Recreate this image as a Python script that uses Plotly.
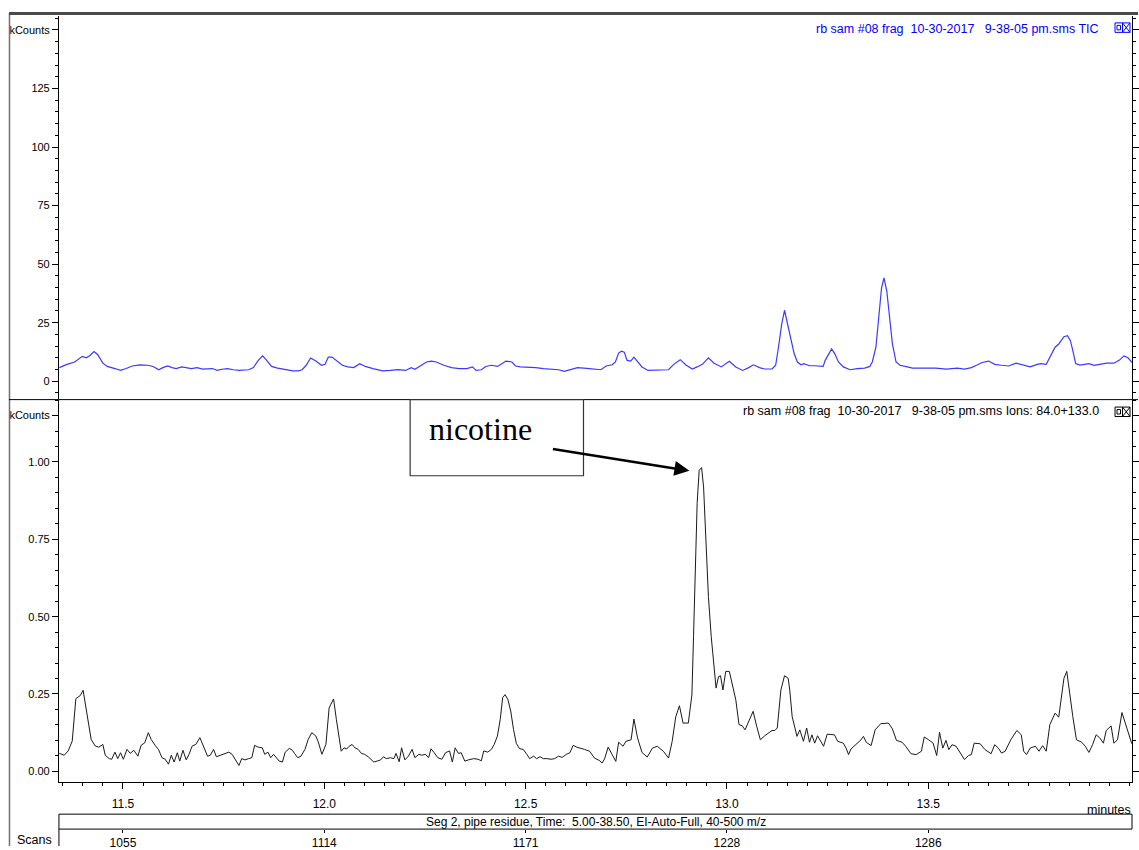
import plotly.graph_objects as go

# ---------------- data ----------------
tic_minutes = [
    11.342, 11.361, 11.380, 11.399, 11.409, 11.418, 11.428, 11.437, 11.450, 11.461,
    11.480, 11.494, 11.508, 11.523, 11.542, 11.561, 11.575, 11.589, 11.599, 11.611,
    11.622, 11.632, 11.646, 11.660, 11.670, 11.684, 11.698, 11.722, 11.734, 11.746,
    11.760, 11.774, 11.789, 11.812, 11.824, 11.836, 11.847, 11.857, 11.869, 11.884,
    11.903, 11.922, 11.936, 11.945, 11.955, 11.966, 11.979, 11.993, 12.002, 12.010,
    12.019, 12.031, 12.045, 12.059, 12.073, 12.088, 12.102, 12.121, 12.145, 12.164,
    12.183, 12.202, 12.216, 12.225, 12.240, 12.254, 12.266, 12.278, 12.297, 12.316,
    12.335, 12.354, 12.368, 12.377, 12.390, 12.401, 12.415, 12.430, 12.441, 12.451,
    12.466, 12.475, 12.487, 12.506, 12.525, 12.544, 12.563, 12.582, 12.596, 12.610,
    12.629,
    12.652, 12.669, 12.687, 12.700, 12.715, 12.723, 12.731, 12.738, 12.745, 12.752,
    12.761, 12.769, 12.777, 12.789, 12.804, 12.824, 12.838, 12.855, 12.868, 12.884,
    12.899, 12.914, 12.926, 12.939, 12.954, 12.968, 12.986, 13.006, 13.022, 13.039,
    13.054, 13.066, 13.081, 13.094, 13.112, 13.121, 13.128, 13.136, 13.143, 13.150,
    13.158, 13.167, 13.175, 13.184, 13.191, 13.205, 13.218, 13.239, 13.244, 13.253,
    13.260, 13.268, 13.277, 13.289, 13.306, 13.324, 13.342, 13.355, 13.361, 13.370,
    13.377, 13.384, 13.390, 13.397, 13.404, 13.411, 13.420, 13.430, 13.448, 13.461,
    13.483, 13.519, 13.545, 13.572, 13.590, 13.607, 13.620, 13.634, 13.650, 13.665,
    13.682, 13.700, 13.718, 13.736, 13.753, 13.771, 13.780, 13.793, 13.802, 13.815,
    13.824, 13.837, 13.846, 13.853, 13.859, 13.866, 13.877, 13.899, 13.912, 13.930,
    13.943, 13.961, 13.974, 13.986, 13.996, 14.005, 14.014,
]
tic_kcounts = [
    5.8, 7.2, 8.2, 10.6, 10.0, 11.0, 12.7, 11.4, 7.7, 6.3,
    5.4, 4.6, 5.4, 6.5, 7.0, 6.8, 6.3, 4.9, 5.8, 6.5,
    5.8, 5.4, 6.1, 5.8, 5.4, 5.8, 5.2, 5.4, 4.6, 5.1,
    5.4, 4.9, 4.6, 4.9, 5.8, 8.9, 10.8, 8.9, 6.3, 5.6,
    4.9, 4.4, 4.4, 4.9, 6.8, 9.9, 8.6, 6.8, 7.2, 10.3,
    10.3, 8.6, 6.8, 6.1, 5.8, 7.5, 6.3, 5.4, 4.4, 4.6,
    4.9, 4.6, 5.8, 5.1, 6.8, 8.2, 8.6, 8.2, 6.8, 5.8,
    5.4, 5.4, 6.1, 4.6, 4.9, 6.3, 6.8, 6.3, 7.5, 8.6,
    8.2, 6.5, 6.1, 6.1, 5.8, 5.4, 5.1, 4.9, 4.2, 4.9,
    5.8,
    5.5, 5.2, 4.9, 6.5, 7.0, 8.2, 12.0, 12.8, 12.4, 8.9,
    8.6, 10.3, 8.5, 6.1, 4.6, 4.6, 4.6, 4.9, 7.2, 9.2,
    6.8, 5.2, 6.1, 7.2, 10.0, 7.7, 6.1, 8.5, 6.1, 4.6,
    5.8, 7.0, 5.8, 5.2, 5.2, 6.8, 14.5, 24.4, 30.3, 25.1,
    18.7, 11.7, 8.2, 7.0, 7.5, 6.6, 6.6, 6.3, 8.9, 12.0,
    13.8, 11.7, 8.2, 6.1, 4.9, 5.4, 5.6, 6.3, 8.2, 14.5,
    28.6, 39.9, 44.1, 38.5, 27.2, 15.9, 8.2, 6.8, 6.1, 5.6,
    5.6, 5.6, 5.2, 5.6, 5.2, 5.8, 6.8, 8.0, 8.6, 7.2,
    6.8, 6.5, 7.7, 6.8, 6.1, 7.2, 7.5, 7.2, 10.3, 14.5,
    15.9, 19.0, 19.4, 17.3, 13.1, 7.5, 6.9, 7.5, 6.8, 7.2,
    7.7, 7.7, 8.9, 10.8, 10.0, 8.2, 7.2,
]

ion_minutes = [
    11.342, 11.354, 11.364, 11.374, 11.383, 11.390, 11.394, 11.401, 11.409, 11.415,
    11.421, 11.431, 11.440, 11.450, 11.456, 11.466, 11.472, 11.480, 11.487, 11.494,
    11.501, 11.510, 11.518, 11.527, 11.537, 11.545, 11.554, 11.563, 11.570, 11.580,
    11.588, 11.597, 11.605, 11.613, 11.620, 11.627, 11.635, 11.641, 11.649, 11.657,
    11.664, 11.672, 11.681, 11.691, 11.700, 11.710, 11.717, 11.725, 11.732, 11.741,
    11.751, 11.763, 11.771, 11.779, 11.788, 11.795, 11.803, 11.812, 11.820, 11.827,
    11.836, 11.846, 11.852, 11.860, 11.867, 11.874, 11.882, 11.888, 11.896, 11.903,
    11.913, 11.921, 11.926, 11.934, 11.942, 11.952, 11.960, 11.969, 11.979, 11.985,
    11.994, 12.000, 12.004, 12.012, 12.017, 12.023, 12.030, 12.036, 12.042, 12.049,
    12.055, 12.061, 12.069, 12.076, 12.084, 12.092, 12.100, 12.109, 12.116, 12.123,
    12.131, 12.140, 12.147, 12.154, 12.164, 12.173, 12.178, 12.186, 12.192, 12.200,
    12.209, 12.218, 12.225, 12.235, 12.242, 12.251, 12.259, 12.265, 12.273, 12.282,
    12.292, 12.301, 12.311, 12.318, 12.325, 12.333, 12.340, 12.349, 12.358, 12.371,
    12.382, 12.390, 12.396, 12.406, 12.415, 12.422, 12.430, 12.437, 12.443, 12.449,
    12.456, 12.463, 12.470, 12.477, 12.485, 12.494, 12.503, 12.510, 12.520, 12.527,
    12.536, 12.544, 12.553, 12.563, 12.572, 12.582, 12.591, 12.601, 12.610, 12.618,
    12.627, 12.637, 12.646,
    12.659, 12.671, 12.683, 12.690, 12.696, 12.705, 12.715, 12.724, 12.731, 12.742,
    12.749, 12.762, 12.769, 12.778, 12.789, 12.802, 12.815, 12.827, 12.842, 12.855,
    12.864, 12.873, 12.882, 12.891, 12.904, 12.913, 12.917, 12.922, 12.926, 12.931,
    12.937, 12.942, 12.948, 12.954, 12.961, 12.968, 12.973, 12.979, 12.984, 12.990,
    12.997, 13.006, 13.014, 13.022, 13.030, 13.038, 13.045, 13.056, 13.065, 13.074,
    13.083, 13.094, 13.112, 13.119, 13.125, 13.134, 13.143, 13.152, 13.156, 13.162,
    13.169, 13.174, 13.181, 13.190, 13.198, 13.205, 13.211, 13.218, 13.225, 13.233,
    13.240, 13.249, 13.258, 13.267, 13.275, 13.289, 13.296, 13.302, 13.308, 13.320,
    13.333, 13.339, 13.346, 13.358, 13.368, 13.382, 13.393, 13.401, 13.411, 13.421,
    13.435, 13.444, 13.457, 13.470, 13.483, 13.490, 13.501, 13.512, 13.521, 13.528,
    13.536, 13.544, 13.551, 13.559, 13.569, 13.579, 13.590, 13.600, 13.607, 13.614,
    13.629, 13.641, 13.656, 13.665, 13.674, 13.682, 13.691, 13.705, 13.720, 13.731,
    13.737, 13.744, 13.753, 13.766, 13.775, 13.784, 13.793, 13.802, 13.815, 13.824,
    13.830, 13.837, 13.844, 13.850, 13.859, 13.868, 13.881, 13.890, 13.899, 13.908,
    13.917, 13.926, 13.935, 13.942, 13.954, 13.961, 13.970, 13.981, 13.988, 13.996,
    14.005, 14.011, 14.017,
]
ion_kcounts = [
    0.058, 0.052, 0.066, 0.098, 0.235, 0.243, 0.245, 0.262, 0.200, 0.155,
    0.103, 0.082, 0.078, 0.087, 0.052, 0.041, 0.039, 0.062, 0.041, 0.060,
    0.039, 0.071, 0.058, 0.068, 0.049, 0.084, 0.092, 0.125, 0.103, 0.084,
    0.071, 0.044, 0.039, 0.023, 0.052, 0.030, 0.060, 0.033, 0.068, 0.037,
    0.055, 0.082, 0.087, 0.109, 0.082, 0.049, 0.052, 0.071, 0.047, 0.052,
    0.055, 0.062, 0.055, 0.037, 0.019, 0.041, 0.037, 0.041, 0.044, 0.084,
    0.078, 0.076, 0.055, 0.062, 0.044, 0.055, 0.041, 0.033, 0.030, 0.062,
    0.074, 0.068, 0.058, 0.044, 0.049, 0.071, 0.103, 0.125, 0.114, 0.095,
    0.055, 0.071, 0.087, 0.205, 0.216, 0.234, 0.168, 0.114, 0.065, 0.076,
    0.072, 0.080, 0.087, 0.076, 0.071, 0.058, 0.055, 0.047, 0.039, 0.030,
    0.033, 0.037, 0.047, 0.041, 0.044, 0.041, 0.058, 0.031, 0.076, 0.037,
    0.049, 0.071, 0.044, 0.055, 0.052, 0.055, 0.044, 0.073, 0.060, 0.044,
    0.039, 0.060, 0.066, 0.030, 0.076, 0.058, 0.060, 0.033, 0.037, 0.041,
    0.039, 0.034, 0.066, 0.062, 0.071, 0.087, 0.114, 0.168, 0.238, 0.248,
    0.232, 0.195, 0.135, 0.090, 0.073, 0.071, 0.055, 0.041, 0.049, 0.041,
    0.047, 0.041, 0.041, 0.039, 0.041, 0.049, 0.045, 0.055, 0.060, 0.084,
    0.078, 0.073, 0.071,
    0.065, 0.043, 0.035, 0.027, 0.040, 0.078, 0.054, 0.032, 0.094, 0.081,
    0.097, 0.102, 0.169, 0.108, 0.061, 0.046, 0.075, 0.081, 0.065, 0.043,
    0.097, 0.177, 0.212, 0.156, 0.156, 0.247, 0.435, 0.672, 0.866, 0.973,
    0.982, 0.919, 0.758, 0.565, 0.435, 0.349, 0.269, 0.306, 0.309, 0.263,
    0.323, 0.323, 0.274, 0.231, 0.151, 0.147, 0.134, 0.167, 0.194, 0.145,
    0.102, 0.115, 0.132, 0.132, 0.140, 0.263, 0.309, 0.301, 0.263, 0.177,
    0.134, 0.113, 0.134, 0.097, 0.140, 0.094, 0.118, 0.091, 0.115, 0.097,
    0.081, 0.120, 0.118, 0.118, 0.097, 0.091, 0.075, 0.054, 0.072, 0.086,
    0.102, 0.113, 0.094, 0.083, 0.134, 0.154, 0.154, 0.156, 0.137, 0.100,
    0.094, 0.081, 0.057, 0.054, 0.065, 0.111, 0.102, 0.091, 0.051, 0.126,
    0.075, 0.100, 0.070, 0.086, 0.081, 0.059, 0.038, 0.051, 0.054, 0.091,
    0.089, 0.070, 0.057, 0.086, 0.075, 0.059, 0.065, 0.102, 0.132, 0.118,
    0.065, 0.054, 0.075, 0.081, 0.065, 0.083, 0.065, 0.151, 0.188, 0.175,
    0.242, 0.301, 0.323, 0.263, 0.177, 0.102, 0.094, 0.081, 0.061, 0.086,
    0.118, 0.108, 0.091, 0.132, 0.147, 0.091, 0.102, 0.190, 0.161, 0.134,
    0.091, 0.081, 0.086,
]
assert len(tic_minutes) == len(tic_kcounts), (len(tic_minutes), len(tic_kcounts))
assert len(ion_minutes) == len(ion_kcounts), (len(ion_minutes), len(ion_kcounts))

minute_ticks = [11.5, 12.0, 12.5, 13.0, 13.5]
minute_labels = ["11.5", "12.0", "12.5", "13.0", "13.5"]
scan_labels = ["1055", "1114", "1171", "1228", "1286"]
tic_ticks = [0, 25, 50, 75, 100, 125, 150]
tic_labels = ["0", "25", "50", "75", "100", "125", "kCounts"]
ion_ticks = [0, 0.25, 0.50, 0.75, 1.00, 1.15]
ion_labels = ["0.00", "0.25", "0.50", "0.75", "1.00", "kCounts"]

NB = "\u00a0"
tic_title = f"rb sam #08 frag {NB}10-30-2017 {NB}{NB}9-38-05 pm.sms TIC"
ion_title = f"rb sam #08 frag {NB}10-30-2017 {NB}{NB}9-38-05 pm.sms Ions: 84.0+133.0"
seg_text = f"Seg 2, pipe residue, Time: {NB}5.00-38.50, EI-Auto-Full, 40-500 m/z"

# ---------------- layout helpers ----------------
W, H = 1139, 850


def px(x):
    return x / W


def py(y):
    return 1 - y / H


FONT = "Liberation Sans, Arial, sans-serif"
FS = 12.5
tickfont = dict(family=FONT, size=11, color="black")
XRANGE = [11.341, 14.006]

fig = go.Figure()
fig.add_trace(go.Scatter(x=tic_minutes, y=tic_kcounts, mode="lines",
                         line=dict(color="#3a3aff", width=1.2),
                         xaxis="x2", yaxis="y2", hoverinfo="skip", showlegend=False))
fig.add_trace(go.Scatter(x=ion_minutes, y=ion_kcounts, mode="lines",
                         line=dict(color="#1a1a1a", width=1),
                         xaxis="x", yaxis="y", hoverinfo="skip", showlegend=False))
fig.add_trace(go.Scatter(x=[minute_ticks[0]], y=[None], mode="lines",
                         xaxis="x3", yaxis="y", hoverinfo="skip", showlegend=False))

yaxis_common = dict(
    tickmode="array", ticks="outside", ticklen=6, tickcolor="black", tickwidth=1,
    showline=True, linecolor="black", linewidth=1, mirror="ticks",
    showgrid=False, zeroline=False, tickfont=tickfont, fixedrange=True,
)

fig.update_layout(
    width=W, height=H, autosize=False,
    margin=dict(l=0, r=0, t=0, b=0, pad=0),
    paper_bgcolor="white", plot_bgcolor="white",
    showlegend=False,
    xaxis=dict(
        domain=[px(59), px(1133)], range=XRANGE, anchor="y",
        tickmode="array", tickvals=minute_ticks, ticktext=minute_labels,
        ticks="outside", ticklen=6, tickcolor="black",
        showline=True, linecolor="black", linewidth=1,
        showgrid=False, zeroline=False, tickfont=dict(tickfont, size=12),
        ticklabelstandoff=4,
        minor=dict(dtick=0.05, tick0=0, ticks="outside", ticklen=3,
                   tickcolor="black", showgrid=False),
    ),
    xaxis2=dict(domain=[px(59), px(1133)], range=XRANGE, anchor="y2",
                visible=False),
    xaxis3=dict(overlaying="x", anchor="free", position=py(833), side="bottom",
                range=XRANGE, tickmode="array", tickvals=minute_ticks,
                ticktext=scan_labels, ticks="outside", ticklen=3,
                tickcolor="black", showline=False, showgrid=False,
                zeroline=False, tickfont=dict(tickfont, size=12)),
    yaxis=dict(domain=[py(786), py(402)], range=[-0.0355, 1.2], anchor="x",
               tickvals=ion_ticks, ticktext=ion_labels,
               minor=dict(dtick=0.05, tick0=0, ticks="outside", ticklen=3,
                          tickcolor="black", showgrid=False),
               **yaxis_common),
    yaxis2=dict(domain=[py(401), py(16)], range=[-7.65, 156.0], anchor="x2",
                tickvals=tic_ticks, ticktext=tic_labels,
                minor=dict(dtick=5, tick0=0, ticks="outside", ticklen=3,
                           tickcolor="black", showgrid=False),
                **yaxis_common),
)

shapes = []


def line(x0, y0, x1, y1, color="black", width=1):
    shapes.append(dict(type="line", xref="paper", yref="paper",
                       x0=px(x0), y0=py(y0), x1=px(x1), y1=py(y1),
                       line=dict(color=color, width=width), layer="above"))


def rect(x0, y0, x1, y1, color="black", width=1, fill="rgba(0,0,0,0)"):
    shapes.append(dict(type="rect", xref="paper", yref="paper",
                       x0=px(x0), y0=py(y0), x1=px(x1), y1=py(y1),
                       line=dict(color=color, width=width), fillcolor=fill,
                       layer="above"))


# window frame
line(9.5, 13, 9.5, 850, color="#707070", width=1.5)
line(9, 13.5, 1139, 13.5, color="#4a4a4a", width=3)
line(9, 401.5, 1139, 401.5, color="black", width=1)
# segment box and scans axis
rect(59, 818, 1133, 833)
line(59, 833, 59, 850)


def icons(top, color):
    rect(1116, top, 1123.5, top + 9.5, color=color)
    rect(1118, top + 2.5, 1121.5, top + 7, color=color)
    rect(1123.5, top, 1131, top + 9.5, color=color)
    line(1123.5, top, 1131, top + 9.5, color=color)
    line(1131, top, 1123.5, top + 9.5, color=color)


icons(23, "#0000ff")
icons(409, "black")

# nicotine callout box
rect(410.5, 401.5, 584, 478, color="#333333", width=1.2, fill="white")

fig.update_layout(shapes=shapes)

annotations = [
    dict(text=tic_title, x=px(1102), y=py(29), xanchor="right", yanchor="middle",
         font=dict(family=FONT, size=FS, color="#0000ff")),
    dict(text=ion_title, x=px(1102), y=py(413), xanchor="right", yanchor="middle",
         font=dict(family=FONT, size=FS, color="black")),
    dict(text=seg_text, x=px(597), y=py(825.5), xanchor="center", yanchor="middle",
         font=dict(family=FONT, size=12, color="black")),
    dict(text="minutes", x=px(1134), y=py(814), xanchor="right", yanchor="middle",
         font=dict(family=FONT, size=FS, color="black")),
    dict(text="Scans", x=px(35), y=py(844), xanchor="center", yanchor="middle",
         font=dict(family=FONT, size=FS, color="black")),
    dict(text="nicotine", x=px(481), y=py(431), xanchor="center", yanchor="middle",
         font=dict(family="Liberation Serif, Times New Roman, serif", size=32,
                   color="black")),
    dict(text="", x=px(690), y=py(473), ax=-138, ay=-22, showarrow=True,
         arrowhead=2, arrowsize=1.2, arrowwidth=2.5, arrowcolor="black"),
]
for a in annotations:
    a.setdefault("xref", "paper")
    a.setdefault("yref", "paper")
    a.setdefault("showarrow", False)
fig.update_layout(annotations=annotations)

post = (
    "document.documentElement.style.margin='0';"
    "document.documentElement.style.overflow='hidden';"
    "document.documentElement.style.height='850px';"
    "document.body.style.margin='0';"
    "document.body.style.overflow='hidden';"
    "document.body.style.height='850px';"
    "var g=document.getElementById('{plot_id}');"
    "g.style.display='block';g.style.overflow='hidden';"
    "if(g.parentElement){g.parentElement.style.height='850px';"
    "g.parentElement.style.overflow='hidden';}"
    "var sc=g.querySelector('.svg-container');if(sc){sc.style.display='block';}"
)
fig.write_html("out.html", config={"displayModeBar": False}, post_script=post)
